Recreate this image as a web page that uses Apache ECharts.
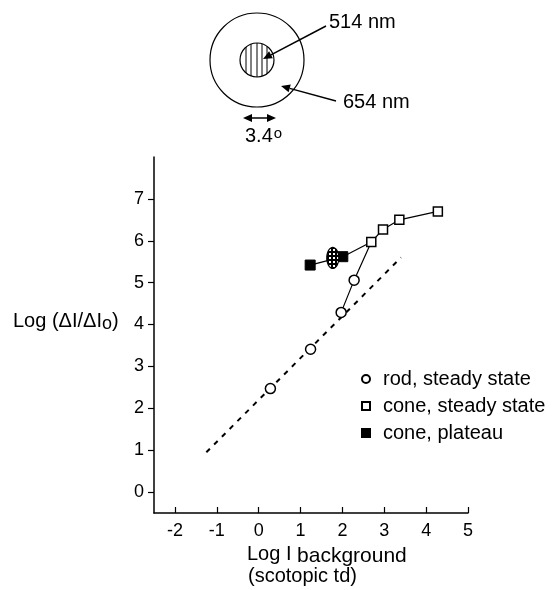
<!DOCTYPE html>
<html>
<head>
<meta charset="utf-8">
<script src="https://cdn.jsdelivr.net/npm/echarts@6/dist/echarts.min.js"></script>
<style>
  html, body { margin: 0; background: #fff; }
  #chart { width: 554px; height: 590px; }
</style>
</head>
<body>
<div id="chart"></div>
<script>
// rod, steady state (open circles)
const rodX = [0.28, 1.24, 1.97, 2.28];
const rodY = [2.47, 3.41, 4.29, 5.06];
// cone, steady state (open squares)
const coneX = [2.69, 2.97, 3.36, 4.28];
const coneY = [5.97, 6.27, 6.5, 6.7];
// cone, plateau (filled squares)
const plateauX = [1.23, 2.01];
const plateauY = [5.42, 5.62];
// hatched ellipse between the plateau points
const hatchX = [1.77];
const hatchY = [5.59];
// dashed slope-1 line
const fitX = [-1.25, 3.4];
const fitY = [0.95, 5.6];
// tick labels
const xTicks = [-2, -1, 0, 1, 2, 3, 4, 5];
const yTicks = [0, 1, 2, 3, 4, 5, 6, 7];

const pts = (xs, ys) => xs.map((x, i) => [x, ys[i]]);
const FONT = 'Liberation Sans, Arial, sans-serif';

// dotted crosshatch pattern for the ellipse
const pat = document.createElement('canvas');
pat.width = 4; pat.height = 4;
const pc = pat.getContext('2d');
pc.fillStyle = '#000'; pc.fillRect(0, 0, 4, 4);
pc.fillStyle = '#fff'; pc.fillRect(1, 1, 2, 2);

// arrow helper for the stimulus sketch
function arrow(x1, y1, x2, y2) {
  const dx = x2 - x1, dy = y2 - y1, len = Math.hypot(dx, dy);
  const ux = dx / len, uy = dy / len, hl = 9, hw = 4;
  const bx = x2 - ux * hl, by = y2 - uy * hl;
  return [
    { type: 'line', shape: { x1: x1, y1: y1, x2: bx, y2: by }, style: { stroke: '#000', lineWidth: 1.5 } },
    { type: 'polygon', shape: { points: [[x2, y2], [bx - uy * hw, by + ux * hw], [bx + uy * hw, by - ux * hw]] }, style: { fill: '#000' } }
  ];
}

// vertical stripes inside the small disc
const cx = 257, cy = 60, rIn = 17;
const stripes = [-11, -6, 0, 5, 10].map(d => {
  const h = Math.sqrt(rIn * rIn - d * d);
  return { type: 'line', shape: { x1: cx + d, y1: cy - h, x2: cx + d, y2: cy + h }, style: { stroke: '#000', lineWidth: 1 } };
});

const chart = echarts.init(document.getElementById('chart'));

chart.setOption({
  animation: false,
  grid: { left: 154, right: 86, top: 157, bottom: 77 },
  xAxis: {
    type: 'value',
    min: -2.5,
    max: 5,
    splitLine: { show: false },
    axisLine: { onZero: false, lineStyle: { color: '#000', width: 1.5 } },
    axisTick: { inside: true, length: 6, customValues: xTicks, lineStyle: { color: '#000', width: 1.2 } },
    axisLabel: { customValues: xTicks, margin: 9, color: '#000', fontSize: 18, fontFamily: FONT }
  },
  yAxis: {
    type: 'value',
    min: -0.5,
    max: 8,
    splitLine: { show: false },
    axisLine: { onZero: false, lineStyle: { color: '#000', width: 1.5 } },
    axisTick: { length: 6, customValues: yTicks, lineStyle: { color: '#000', width: 1.2 } },
    axisLabel: { customValues: yTicks, margin: 10, color: '#000', fontSize: 18, fontFamily: FONT }
  },
  legend: {
    orient: 'vertical',
    left: 356,
    top: 364,
    itemWidth: 8,
    itemHeight: 8,
    itemGap: 7,
    selectedMode: false,
    textStyle: { fontSize: 20, fontFamily: FONT, color: '#000', padding: [0, 0, 0, 8] },
    data: [
      { name: 'rod, steady state', icon: 'circle' },
      { name: 'cone, steady state', icon: 'rect' },
      { name: 'cone, plateau', icon: 'rect' }
    ]
  },
  series: [
    {
      type: 'line',
      data: pts(fitX, fitY),
      symbol: 'none',
      silent: true,
      lineStyle: { color: '#000', width: 2, type: [5, 6] }
    },
    {
      // rods joining onto the cone branch
      type: 'line',
      data: pts(rodX.slice(2), rodY.slice(2)).concat([[coneX[0], coneY[0]]]),
      symbol: 'none',
      silent: true,
      lineStyle: { color: '#000', width: 1.2 }
    },
    {
      type: 'line',
      data: [[plateauX[1], plateauY[1]], [coneX[0], coneY[0]]],
      symbol: 'none',
      silent: true,
      lineStyle: { color: '#000', width: 1.2 }
    },
    {
      name: 'cone, plateau',
      type: 'line',
      data: pts(plateauX, plateauY),
      symbol: 'rect',
      symbolSize: 10,
      z: 3,
      itemStyle: { color: '#000', borderColor: '#000', borderWidth: 1, opacity: 1 },
      lineStyle: { color: '#000', width: 1.2 }
    },
    {
      // hatched ellipse, drawn in pixel space so the pattern keeps its scale
      type: 'custom',
      data: pts(hatchX, hatchY),
      z: 4,
      silent: true,
      renderItem: function (params, api) {
        const p = api.coord([api.value(0), api.value(1)]);
        const ring = [];
        for (let i = 0; i < 40; i++) {
          const a = i / 40 * Math.PI * 2;
          ring.push([p[0] + 6 * Math.cos(a), p[1] + 10.5 * Math.sin(a)]);
        }
        return {
          type: 'polygon',
          shape: { points: ring },
          style: { fill: { image: pat, repeat: 'repeat' }, stroke: '#000', lineWidth: 1.2 }
        };
      }
    },
    {
      name: 'cone, steady state',
      type: 'line',
      data: pts(coneX, coneY),
      symbol: 'rect',
      symbolSize: 9,
      z: 3,
      itemStyle: { color: '#fff', borderColor: '#000', borderWidth: 1.5, opacity: 1 },
      lineStyle: { color: '#000', width: 1.2 }
    },
    {
      name: 'rod, steady state',
      type: 'scatter',
      data: pts(rodX, rodY),
      symbol: 'circle',
      symbolSize: 10,
      z: 4,
      itemStyle: { color: '#fff', borderColor: '#000', borderWidth: 1.5, opacity: 1 }
    }
  ],
  graphic: [
    { type: 'circle', shape: { cx: cx, cy: cy, r: 47 }, style: { fill: 'none', stroke: '#000', lineWidth: 1.2 } },
    { type: 'circle', shape: { cx: cx, cy: cy, r: rIn }, style: { fill: 'none', stroke: '#000', lineWidth: 1.2 } }
  ].concat(stripes)
   .concat(arrow(326, 26, 263, 59))
   .concat(arrow(336, 101, 281, 86))
   .concat(arrow(259, 118, 243, 118))
   .concat(arrow(259, 118, 276, 118))
   .concat([
    { type: 'text', left: 329, top: 12, style: { text: '514 nm', font: '20px ' + FONT, fill: '#000' } },
    { type: 'text', left: 343, top: 92, style: { text: '654 nm', font: '20px ' + FONT, fill: '#000' } },
    {
      type: 'text', left: 245, top: 126,
      style: {
        text: '{a|3.4}{b|o}',
        rich: {
          a: { fontSize: 20, fontFamily: FONT, fill: '#000' },
          b: { fontSize: 15, fontFamily: FONT, fill: '#000', verticalAlign: 'top', padding: [0, 0, 6, 1] }
        }
      }
    },
    {
      type: 'text', left: 13, top: 311,
      style: {
        text: '{a|Log (ΔI/ΔI}{b|o}{a|)}',
        rich: {
          a: { fontSize: 20, fontFamily: FONT, fill: '#000' },
          b: { fontSize: 18, fontFamily: FONT, fill: '#000', padding: [7, 0, 0, 0] }
        }
      }
    },
    {
      type: 'text', left: 247, top: 544,
      style: {
        text: '{a|Log I }{b|background}',
        rich: {
          a: { fontSize: 20, fontFamily: FONT, fill: '#000' },
          b: { fontSize: 21, fontFamily: FONT, fill: '#000', padding: [4, 0, 0, 0] }
        }
      }
    },
    { type: 'text', left: 248, top: 566, style: { text: '(scotopic td)', font: '20px ' + FONT, fill: '#000' } }
  ])
});
</script>
</body>
</html>
